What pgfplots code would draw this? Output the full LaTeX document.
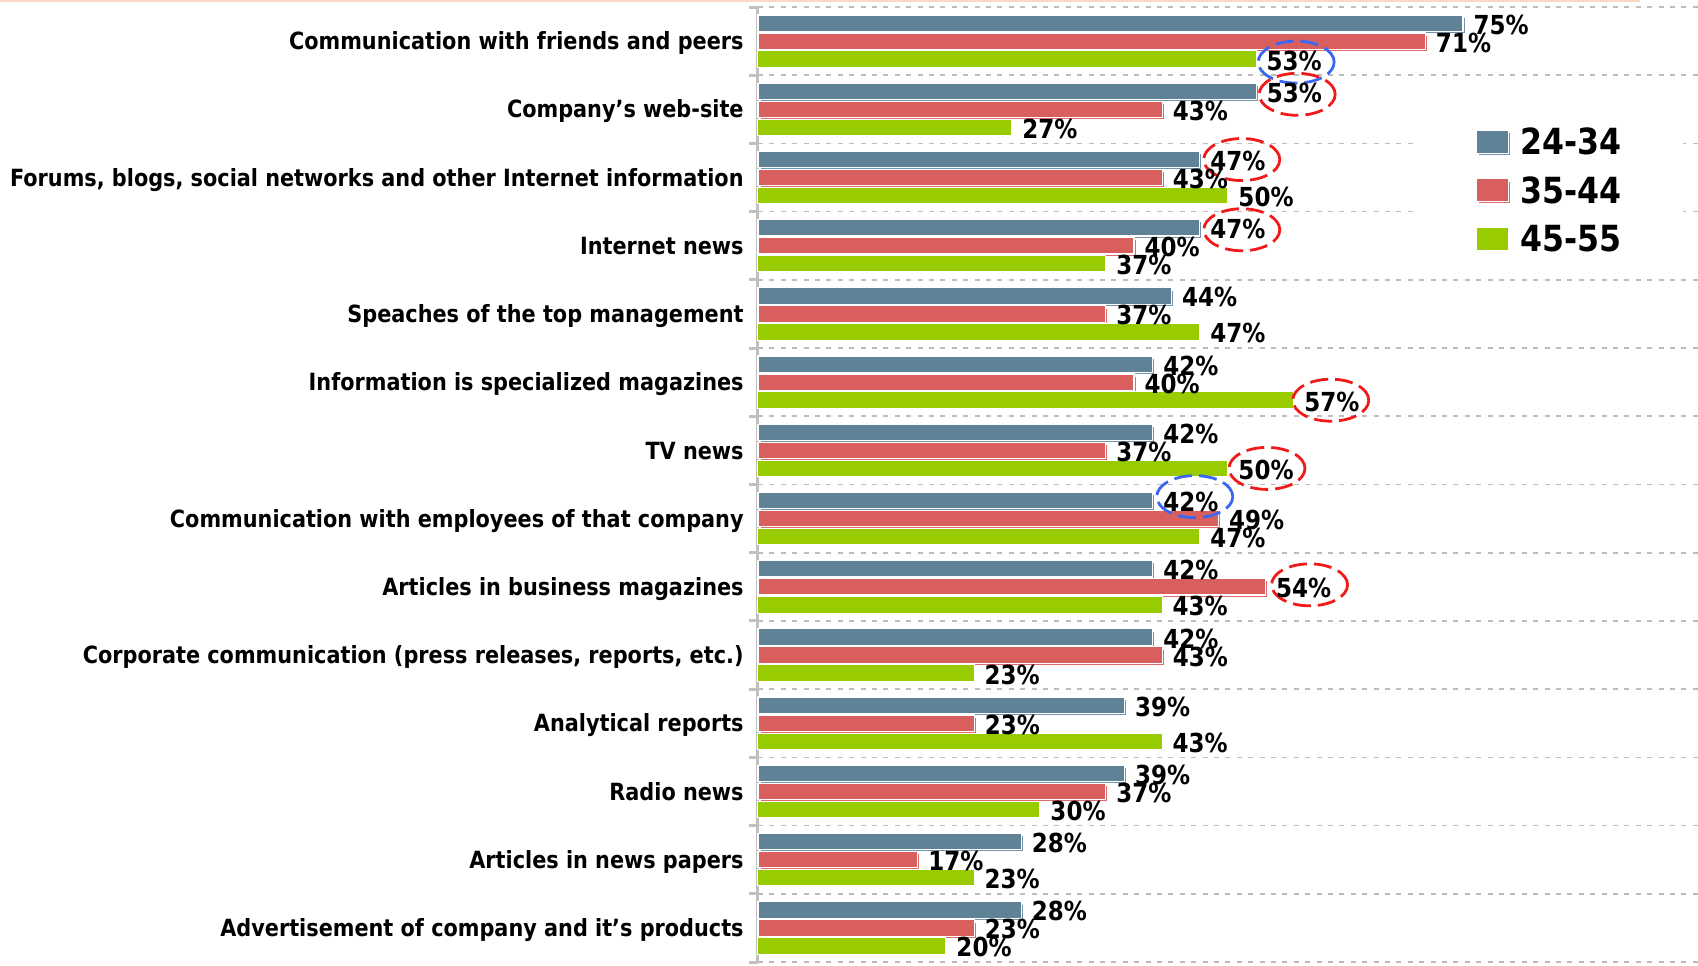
\documentclass[border=0pt]{standalone}
\usepackage{fontspec}
\setmainfont{DejaVu Sans}[FakeStretch=0.878]
\usepackage{pgfplots}
\pgfplotsset{compat=1.18}
\definecolor{cBlue}{HTML}{608296}
\definecolor{cBlueSh}{HTML}{7192A8}
\definecolor{cRed}{HTML}{D95F5F}
\definecolor{cRedSh}{HTML}{E06A6A}
\definecolor{cGreen}{HTML}{99CC00}
\definecolor{gridgray}{HTML}{BDBDBD}
\definecolor{axisgray}{HTML}{C0C0C0}
\definecolor{peach}{HTML}{FCD7C2}
\definecolor{ellred}{HTML}{F01A1A}
\definecolor{ellblue}{HTML}{3A66F2}
\begin{document}
\begin{tikzpicture}
\begin{axis}[
  name=ax,
  scale only axis,
  width=470pt, height=477.5pt,
  xbar=0.8pt, bar width=8.2pt,
  xmin=0, xmax=100,
  ymin=-0.5, ymax=13.5,
  y dir=reverse,
  axis x line=none,
  axis y line*=left,
  axis line style={draw=axisgray, line width=1.5pt},
  ytick={0,...,13},
  yticklabels={
    {Communication with friends and peers},
    {Company’s web-site},
    {Forums, blogs, social networks and other Internet information},
    {Internet news},
    {Speaches of the top management},
    {Information is specialized magazines},
    {TV news},
    {Communication with employees of that company},
    {Articles in business magazines},
    {Corporate communication (press releases, reports, etc.)},
    {Analytical reports},
    {Radio news},
    {Articles in news papers},
    {Advertisement of company and it’s products}},
  minor ytick={-0.5,0.5,...,13.5},
  major tick length=0pt,
  minor tick length=4.5pt,
  tick align=outside,
  tick style={draw=axisgray, line width=1.5pt},
  yminorgrids=true,
  minor grid style={draw=gridgray, line width=0.8pt, dash pattern=on 2.5pt off 3.2pt},
  yticklabel style={font=\bfseries\fontsize{11.85}{12}\selectfont, inner sep=0pt, anchor=east, xshift=-7pt, text height=8.64pt, text depth=0pt},
  /pgf/number format/assume math mode=true,
  point meta=x,
  nodes near coords={\pgfmathprintnumber{\pgfplotspointmeta}\%},
  every node near coord/.append style={font=\bfseries\fontsize{13.1}{13}\selectfont, anchor=west, inner sep=0pt, xshift=5pt, yshift=-0.75pt, text height=9.5pt, text depth=0pt, black},
  legend image code/.code={\draw[#1] (0pt,-5.75pt) rectangle (16pt,5.75pt);},
  legend style={at={(0.841,0.808)}, anchor=center, fill=white, draw=none,
    inner xsep=31pt, inner ysep=8pt, row sep=11.15pt,
    font=\bfseries\fontsize{18}{18}\selectfont,
    nodes={inner sep=0pt, text height=13.1pt, text depth=0pt},
    /tikz/every odd column/.style={column sep=5.5pt}},
  legend cell align=left,
  clip=false,
]
\addplot[bar shift=9pt, fill=cBlue, draw=white, line width=0.6pt,
  preaction={fill=cBlueSh, transform canvas={shift={(1.1pt,-1.1pt)}}}]
  coordinates {(75,0) (53,1) (47,2) (47,3) (44,4) (42,5) (42,6) (42,7) (42,8) (42,9) (39,10) (39,11) (28,12) (28,13)};
\addplot[bar shift=0pt, fill=cRed, draw=white, line width=0.6pt,
  preaction={fill=cRedSh, transform canvas={shift={(1.1pt,-1.1pt)}}}]
  coordinates {(71,0) (43,1) (43,2) (40,3) (37,4) (40,5) (37,6) (49,7) (54,8) (43,9) (23,10) (37,11) (17,12) (23,13)};
\addplot[bar shift=-9pt, fill=cGreen, draw=white, line width=0.5pt]
  coordinates {(53,0) (27,1) (50,2) (37,3) (47,4) (57,5) (50,6) (47,7) (43,8) (23,9) (43,10) (30,11) (23,12) (20,13)};
\legend{24-34,35-44,45-55}
\tikzset{ell/.style={line width=1.4pt, dash pattern=on 9pt off 3.5pt}}
\draw[ell, ellblue] ([xshift=20pt, yshift=-10.5pt]axis cs:53,0) ellipse (19pt and 10.5pt);
\draw[ell, ellred]  ([xshift=20.5pt, yshift=7.5pt]axis cs:53,1) ellipse (19pt and 10.5pt);
\draw[ell, ellred]  ([xshift=21pt, yshift=9pt]axis cs:47,2) ellipse (19pt and 10.5pt);
\draw[ell, ellred]  ([xshift=21pt, yshift=8pt]axis cs:47,3) ellipse (19pt and 10.5pt);
\draw[ell, ellred]  ([xshift=18.5pt, yshift=-9pt]axis cs:57,5) ellipse (19pt and 10.5pt);
\draw[ell, ellred]  ([xshift=19.5pt, yshift=-9pt]axis cs:50,6) ellipse (19pt and 10.5pt);
\draw[ell, ellblue] ([xshift=21pt, yshift=11pt]axis cs:42,7) ellipse (19pt and 10.5pt);
\draw[ell, ellred]  ([xshift=22pt, yshift=1pt]axis cs:54,8) ellipse (19pt and 10.5pt);
\end{axis}
\draw[peach, line width=1pt] ([xshift=-379pt, yshift=3pt]ax.north west) -- ([xshift=441pt, yshift=3pt]ax.north west);
\pgfresetboundingbox
\path[use as bounding box] ([xshift=-379pt, yshift=-1.5pt]ax.south west) rectangle ([yshift=3.5pt]ax.north east);
\end{tikzpicture}
\end{document}
